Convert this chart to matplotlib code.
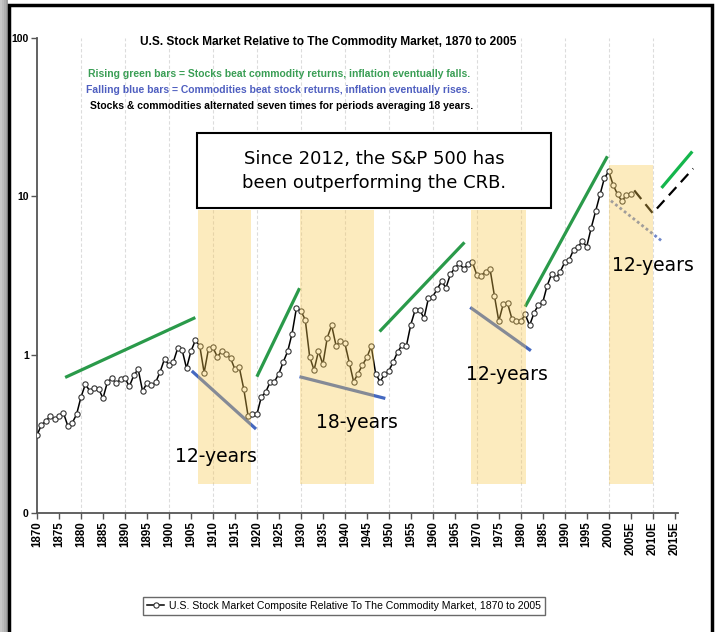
import numpy as np
import matplotlib
matplotlib.use("Agg")
import matplotlib.pyplot as plt
from matplotlib.patches import Rectangle

# yearly ratio (log scale)
years = np.arange(1870, 2006)
ratio = [
    0.31, 0.36, 0.38, 0.41, 0.39, 0.41, 0.43, 0.355, 0.37, 0.42,      # 1870s
    0.54, 0.65, 0.59, 0.62, 0.61, 0.53, 0.67, 0.71, 0.66, 0.70,       # 1880s
    0.71, 0.63, 0.74, 0.81, 0.59, 0.66, 0.64, 0.67, 0.78, 0.94,       # 1890s
    0.86, 0.90, 1.10, 1.07, 0.82, 1.05, 1.23, 1.14, 0.77, 1.09,       # 1900s
    1.11, 0.97, 1.05, 1.01, 0.95, 0.81, 0.83, 0.61, 0.41, 0.42,       # 1910s
    0.42, 0.54, 0.58, 0.67, 0.675, 0.76, 0.90, 1.05, 1.36, 1.98,      # 1920s
    1.89, 1.66, 0.97, 0.80, 1.05, 0.87, 1.28, 1.53, 1.14, 1.22,       # 1930s
    1.18, 0.89, 0.675, 0.76, 0.86, 0.96, 1.13, 0.76, 0.675, 0.75,     # 1940s
    0.79, 0.90, 1.04, 1.15, 1.14, 1.55, 1.92, 1.92, 1.70, 2.27,       # 1950s
    2.33, 2.60, 2.90, 2.65, 3.22, 3.52, 3.78, 3.49, 3.72, 3.84,       # 1960s
    3.19, 3.16, 3.35, 3.49, 2.36, 1.63, 2.08, 2.11, 1.68, 1.63,       # 1970s
    1.62, 1.80, 1.53, 1.83, 2.06, 2.14, 2.73, 3.22, 3.04, 3.35,       # 1980s
    3.84, 3.97, 4.59, 4.82, 5.19, 4.82, 6.30, 8.03, 10.3, 13.0,       # 1990s
    14.4, 11.8, 10.3, 9.3, 10.2, 10.4,                                # 2000s
]

# shaded periods (start, end, top)
shade_x0 = [1906.7, 1929.7, 1968.7, 2000.1]
shade_x1 = [1918.6, 1946.7, 1981.1, 2010.0]
shade_top = [8.2, 8.2, 8.2, 15.7]
shade_bottom = 0.153

# trend bars: x pair, y pair
green_x = [[1876.4, 1906.0], [1920.0, 1929.7], [1947.9, 1967.2], [1981.0, 1999.7]]
green_y = [[0.718, 1.715], [0.726, 2.63], [1.40, 5.12], [2.01, 17.9]]
green2_x = [2012.0, 2019.0]
green2_y = [11.3, 19.2]
blue_x = [[1905.2, 1919.8], [1929.7, 1949.2], [1968.5, 1982.3]]
blue_y = [[0.789, 0.339], [0.726, 0.529], [1.99, 1.06]]
blue_dot_x = [2000.5, 2012.0]
blue_dot_y = [9.37, 5.24]
dash_x = [2005.8, 2010.0, 2019.2]
dash_y = [10.9, 7.83, 14.98]

period_labels = ["12-years", "18-years", "12-years", "12-years"]
label_x = [1910.8, 1942.8, 1976.9, 2010.1]
label_y = [0.226, 0.371, 0.747, 3.66]

tick_years = list(range(1870, 2020, 5))
tick_text = [str(y) for y in range(1870, 2005, 5)] + ["2005E", "2010E", "2015E"]

narrow = ["Liberation Sans", "DejaVu Sans"]

W, H = 715, 632
fig = plt.figure(figsize=(W / 100, H / 100), dpi=100)
fig.patch.set_facecolor("white")

def fx(px):
    return px / W

def fy(py):
    return 1 - py / H

ax = fig.add_axes([fx(37), fy(513), fx(678) - fx(37), fy(38) - fy(513)])
ax.set_yscale("log")
ax.set_xlim(1870, 2015.75)
ax.set_ylim(0.1, 100)

for yr in range(1880, 2020, 10):
    ax.axvline(yr, color="#dcdcdc", lw=0.8, ls=(0, (3, 2)), zorder=0)

ax.plot(years, ratio, color="black", lw=1.1, marker="o", ms=3.8,
        mfc="white", mec="#333333", mew=0.8, zorder=3,
        label="U.S. Stock Market Composite Relative To The Commodity Market, 1870 to 2005")

for xs, ys in zip(green_x, green_y):
    ax.plot(xs, ys, color="#2a9a4a", lw=2.3, solid_capstyle="butt", zorder=2)
ax.plot(green2_x, green2_y, color="#14b64c", lw=2.3, solid_capstyle="butt",
        zorder=2, clip_on=False)
for xs, ys in zip(blue_x, blue_y):
    ax.plot(xs, ys, color="#4468c0", lw=2.3, solid_capstyle="butt", zorder=2)
ax.plot(blue_dot_x, blue_dot_y, color="#6f86c8", lw=2, ls=(0, (1, 1)), zorder=2)
ax.plot(dash_x, dash_y, color="black", lw=1.6, ls=(0, (5, 3)), zorder=2,
        clip_on=False)

# yellow overlay drawn on top of the lines (tints them olive)
for x0, x1, top in zip(shade_x0, shade_x1, shade_top):
    ax.fill_between([x0, x1], shade_bottom, top, color="#f9c84c", alpha=0.36,
                    lw=0, zorder=5)

for txt, lx, ly in zip(period_labels, label_x, label_y):
    ax.text(lx, ly, txt, fontsize=13.5, ha="center", va="center",
            family="DejaVu Sans", zorder=7, clip_on=False)

for side in ["top", "right"]:
    ax.spines[side].set_visible(False)
for side in ["left", "bottom"]:
    ax.spines[side].set_color("#555555")
    ax.spines[side].set_linewidth(1.3)

ax.set_xticks(tick_years)
ax.set_xticklabels(tick_text, rotation=90, fontsize=8.3, fontweight="bold",
                   family=narrow)
ax.xaxis.set_minor_locator(matplotlib.ticker.NullLocator())
ax.set_yticks([0.1, 1, 10, 100])
ax.set_yticklabels(["0", "1", "10", "100"], fontsize=7.5, fontweight="bold",
                   family=narrow)
ax.yaxis.set_minor_locator(matplotlib.ticker.NullLocator())
ax.tick_params(axis="both", length=4, width=1, color="#555555", pad=2)

# headings
fig.text(fx(328), fy(42), "U.S. Stock Market Relative to The Commodity Market, 1870 to 2005",
         ha="center", va="center", fontsize=8.6, fontweight="bold", family=narrow)
fig.text(fx(279), fy(74),
         "Rising green bars = Stocks beat commodity returns, inflation eventually falls.",
         ha="center", va="center", fontsize=7.5, fontweight="bold", color="#3a9e55",
         family=narrow)
fig.text(fx(278), fy(90),
         "Falling blue bars = Commodities beat stock returns, inflation eventually rises.",
         ha="center", va="center", fontsize=7.5, fontweight="bold", color="#4f5fc0",
         family=narrow)
fig.text(fx(282), fy(106),
         "Stocks & commodities alternated seven times for periods averaging 18 years.",
         ha="center", va="center", fontsize=7.5, fontweight="bold", color="black",
         family=narrow)

# callout box
fig.patches.append(Rectangle((fx(197), fy(208)), fx(551) - fx(197), fy(133) - fy(208),
                             transform=fig.transFigure, facecolor="white",
                             edgecolor="black", lw=1.5, zorder=10))
fig.text(fx(374), fy(171), "Since 2012, the S&P 500 has\nbeen outperforming the CRB.",
         ha="center", va="center", fontsize=13, family="DejaVu Sans",
         linespacing=1.45, zorder=11)

leg = fig.legend(loc="center", bbox_to_anchor=(fx(344), fy(606)),
                 frameon=True, fancybox=False, edgecolor="#444444",
                 handlelength=1.6, handletextpad=0.4, borderpad=0.4,
                 prop={"family": narrow, "size": 7.6})
leg.get_frame().set_linewidth(1.0)

# page frame with a soft shadow on the left
for i, g in enumerate(["#c8c8c8", "#bdbdbd", "#b0b0b0", "#a0a0a0"]):
    fig.patches.append(Rectangle((fx(i * 2), 0), fx(2), 1, transform=fig.transFigure,
                                 facecolor=g, edgecolor="none", zorder=12))
fig.patches.append(Rectangle((fx(9), -0.05), fx(712) - fx(9), fy(5) + 0.05,
                             transform=fig.transFigure, fill=False,
                             edgecolor="black", lw=2.5, zorder=13))

fig.savefig("out.png", dpi=100)
